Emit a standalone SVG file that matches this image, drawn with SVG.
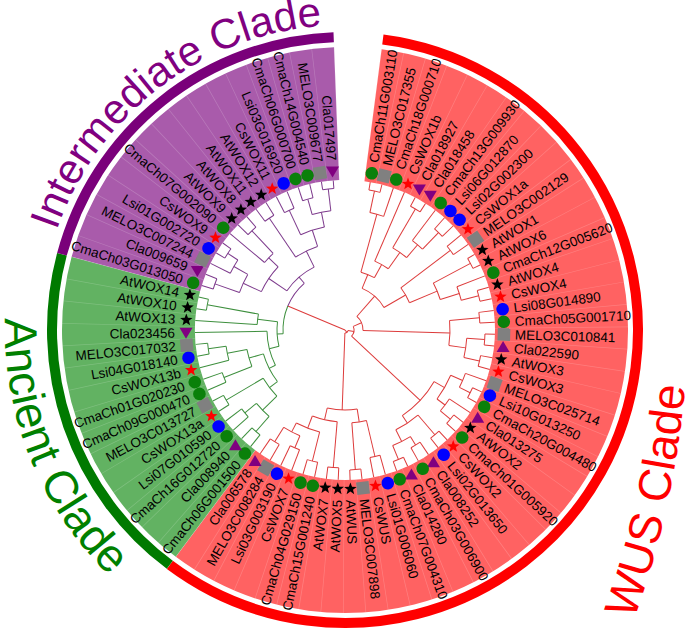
<svg xmlns="http://www.w3.org/2000/svg" width="685" height="632" viewBox="0 0 685 632">
<style>
.lbl text{font-family:"Liberation Sans",Arial,sans-serif;font-size:13.5px;fill:#000}
.lbl text.L{text-anchor:end}
.clade{font-family:"Liberation Sans",Arial,sans-serif;font-size:46px}
</style>
<defs>
<circle id="G" r="6.3" fill="#0a800a"/>
<circle id="B" r="6.3" fill="#0000ff"/>
<rect id="S" x="-6.3" y="-6.3" width="12.6" height="12.6" fill="#808080"/>
<path id="R" d="M0,-6.5L1.6,-2.2L6.2,-2L2.6,0.8L3.8,5.3L0,2.7L-3.8,5.3L-2.6,0.8L-6.2,-2L-1.6,-2.2Z" fill="#ff0000"/>
<path id="K" d="M0,-6.5L1.6,-2.2L6.2,-2L2.6,0.8L3.8,5.3L0,2.7L-3.8,5.3L-2.6,0.8L-6.2,-2L-1.6,-2.2Z" fill="#000"/>
<path id="TU" d="M0,-6L6.5,5L-6.5,5Z" fill="#800080"/>
<path id="TD" d="M0,6L6.5,-5L-6.5,-5Z" fill="#800080"/>
<path id="pI" d="M56.62,230.70 A305,305 0 0,1 371.58,26.16"/>
<path id="pA" d="M5.21,318.20 A340,340 0 0,0 175,624.45"/>
<path id="pW" d="M623,648 A900,900 0 0,0 687,356"/>
</defs>

<g id="bands" transform="translate(345,330)" fill="none">
<circle r="216.5" stroke="#ff6262" stroke-width="133" pathLength="360" stroke-dasharray="209.3 360" transform="rotate(-82.575)"/>
<circle r="216.5" stroke="#62b262" stroke-width="133" pathLength="360" stroke-dasharray="68.25 360" transform="rotate(126.725)"/>
<circle r="216.5" stroke="#a95bab" stroke-width="133" pathLength="360" stroke-dasharray="72.8 360" transform="rotate(194.975)"/>
<circle r="216.5" stroke="#fff" stroke-opacity="0.18" stroke-width="133" pathLength="360" stroke-dasharray="0.2 4.35" transform="rotate(-82.675)"/>
<circle r="293" stroke="#ff0000" stroke-width="10" pathLength="360" stroke-dasharray="209.3 360" transform="rotate(-82.575)"/>
<circle r="293" stroke="#007a00" stroke-width="10" pathLength="360" stroke-dasharray="68.25 360" transform="rotate(126.725)"/>
<circle r="293" stroke="#7a007a" stroke-width="10" pathLength="360" stroke-dasharray="72.8 360" transform="rotate(194.975)"/>
</g>

<g id="clade-labels" class="clade">
<text fill="#800080" font-size="42"><textPath href="#pI">Intermediate Clade</textPath></text>
<text fill="#008000"><textPath href="#pA">Ancient Clade</textPath></text>
<text fill="#ff0000"><textPath href="#pW" startOffset="30">WUS Clade</textPath></text>
</g>

<g id="connectors" transform="translate(345,330)" fill="none" stroke-width="1">
<g stroke="#dd3b3b">
<circle r="142" pathLength="360" stroke-dasharray="4.55 360" transform="rotate(-80.3)"/>
<circle r="120" pathLength="360" stroke-dasharray="6.825 360" transform="rotate(-78.025)"/>
<circle r="140" pathLength="360" stroke-dasharray="4.55 360" transform="rotate(-62.1)"/>
<circle r="135" pathLength="360" stroke-dasharray="4.55 360" transform="rotate(-48.45)"/>
<circle r="112" pathLength="360" stroke-dasharray="6.825 360" transform="rotate(-53)"/>
<circle r="95" pathLength="360" stroke-dasharray="10.235 360" transform="rotate(-59.825)"/>
<circle r="75" pathLength="360" stroke-dasharray="11.94 360" transform="rotate(-66.65)"/>
<circle r="60" pathLength="360" stroke-dasharray="13.93 360" transform="rotate(-74.61)"/>
<circle r="132" pathLength="360" stroke-dasharray="4.55 360" transform="rotate(-39.35)"/>
<circle r="142" pathLength="360" stroke-dasharray="4.55 360" transform="rotate(-30.25)"/>
<circle r="138" pathLength="360" stroke-dasharray="4.55 360" transform="rotate(-16.6)"/>
<circle r="120" pathLength="360" stroke-dasharray="6.825 360" transform="rotate(-21.15)"/>
<circle r="100" pathLength="360" stroke-dasharray="10.235 360" transform="rotate(-27.975)"/>
<circle r="70" pathLength="360" stroke-dasharray="14.215 360" transform="rotate(-37.075)"/>
<circle r="45" pathLength="360" stroke-dasharray="37.68 360" transform="rotate(-67.65)"/>
<circle r="135" pathLength="360" stroke-dasharray="4.55 360" transform="rotate(-7.5)"/>
<circle r="140" pathLength="360" stroke-dasharray="4.55 360" transform="rotate(1.6)"/>
<circle r="138" pathLength="360" stroke-dasharray="4.55 360" transform="rotate(10.7)"/>
<circle r="122" pathLength="360" stroke-dasharray="9.1 360" transform="rotate(3.875)"/>
<circle r="105" pathLength="360" stroke-dasharray="13.65 360" transform="rotate(-5.225)"/>
<circle r="18" pathLength="360" stroke-dasharray="50.41 360" transform="rotate(-48.81)"/>
<circle r="140" pathLength="360" stroke-dasharray="4.55 360" transform="rotate(24.35)"/>
<circle r="128" pathLength="360" stroke-dasharray="6.825 360" transform="rotate(19.8)"/>
<circle r="138" pathLength="360" stroke-dasharray="4.55 360" transform="rotate(38)"/>
<circle r="125" pathLength="360" stroke-dasharray="6.825 360" transform="rotate(33.45)"/>
<circle r="115" pathLength="360" stroke-dasharray="13.65 360" transform="rotate(23.21)"/>
<circle r="138" pathLength="360" stroke-dasharray="4.55 360" transform="rotate(47.1)"/>
<circle r="135" pathLength="360" stroke-dasharray="4.55 360" transform="rotate(56.2)"/>
<circle r="140" pathLength="360" stroke-dasharray="4.55 360" transform="rotate(65.3)"/>
<circle r="125" pathLength="360" stroke-dasharray="9.1 360" transform="rotate(58.475)"/>
<circle r="112" pathLength="360" stroke-dasharray="13.65 360" transform="rotate(49.375)"/>
<circle r="103" pathLength="360" stroke-dasharray="26.16 360" transform="rotate(30.04)"/>
<circle r="9" pathLength="360" stroke-dasharray="66.725 360" transform="rotate(-23.605)"/>
<circle r="130" pathLength="360" stroke-dasharray="4.55 360" transform="rotate(74.4)"/>
<circle r="140" pathLength="360" stroke-dasharray="4.55 360" transform="rotate(83.5)"/>
<circle r="93" pathLength="360" stroke-dasharray="9.1 360" transform="rotate(76.675)"/>
<circle r="138" pathLength="360" stroke-dasharray="4.55 360" transform="rotate(92.6)"/>
<circle r="135" pathLength="360" stroke-dasharray="4.55 360" transform="rotate(101.7)"/>
<circle r="128" pathLength="360" stroke-dasharray="4.55 360" transform="rotate(110.8)"/>
<circle r="132" pathLength="360" stroke-dasharray="4.55 360" transform="rotate(119.9)"/>
<circle r="115" pathLength="360" stroke-dasharray="9.1 360" transform="rotate(113.075)"/>
<circle r="105" pathLength="360" stroke-dasharray="13.65 360" transform="rotate(103.975)"/>
<circle r="92" pathLength="360" stroke-dasharray="15.925 360" transform="rotate(94.875)"/>
<circle r="80" pathLength="360" stroke-dasharray="21.615 360" transform="rotate(81.225)"/>
<circle r="3" pathLength="360" stroke-dasharray="82.27 360" transform="rotate(9.76)"/>
<line x1="142" x2="150" transform="rotate(-80.3)"/>
<line x1="142" x2="150" transform="rotate(-75.75)"/>
<line x1="120" x2="142" transform="rotate(-78.025)"/>
<line x1="120" x2="150" transform="rotate(-71.2)"/>
<line x1="60" x2="120" transform="rotate(-74.61)"/>
<line x1="140" x2="150" transform="rotate(-62.1)"/>
<line x1="140" x2="150" transform="rotate(-57.55)"/>
<line x1="95" x2="140" transform="rotate(-59.825)"/>
<line x1="135" x2="150" transform="rotate(-48.45)"/>
<line x1="135" x2="150" transform="rotate(-43.9)"/>
<line x1="112" x2="150" transform="rotate(-53)"/>
<line x1="112" x2="135" transform="rotate(-46.175)"/>
<line x1="95" x2="112" transform="rotate(-49.59)"/>
<line x1="75" x2="95" transform="rotate(-54.71)"/>
<line x1="75" x2="150" transform="rotate(-66.65)"/>
<line x1="60" x2="75" transform="rotate(-60.68)"/>
<line x1="45" x2="60" transform="rotate(-67.65)"/>
<line x1="132" x2="150" transform="rotate(-39.35)"/>
<line x1="132" x2="150" transform="rotate(-34.8)"/>
<line x1="70" x2="132" transform="rotate(-37.075)"/>
<line x1="142" x2="150" transform="rotate(-30.25)"/>
<line x1="142" x2="150" transform="rotate(-25.7)"/>
<line x1="100" x2="142" transform="rotate(-27.975)"/>
<line x1="138" x2="150" transform="rotate(-16.6)"/>
<line x1="138" x2="150" transform="rotate(-12.05)"/>
<line x1="120" x2="150" transform="rotate(-21.15)"/>
<line x1="120" x2="138" transform="rotate(-14.325)"/>
<line x1="100" x2="120" transform="rotate(-17.74)"/>
<line x1="70" x2="100" transform="rotate(-22.86)"/>
<line x1="45" x2="70" transform="rotate(-29.97)"/>
<line x1="18" x2="45" transform="rotate(-48.81)"/>
<line x1="135" x2="150" transform="rotate(-7.5)"/>
<line x1="135" x2="150" transform="rotate(-2.95)"/>
<line x1="140" x2="150" transform="rotate(1.6)"/>
<line x1="140" x2="150" transform="rotate(6.15)"/>
<line x1="138" x2="150" transform="rotate(10.7)"/>
<line x1="138" x2="150" transform="rotate(15.25)"/>
<line x1="122" x2="140" transform="rotate(3.875)"/>
<line x1="122" x2="138" transform="rotate(12.975)"/>
<line x1="105" x2="135" transform="rotate(-5.225)"/>
<line x1="105" x2="122" transform="rotate(8.425)"/>
<line x1="18" x2="105" transform="rotate(1.6)"/>
<line x1="9" x2="18" transform="rotate(-23.605)"/>
<line x1="140" x2="150" transform="rotate(24.35)"/>
<line x1="140" x2="150" transform="rotate(28.9)"/>
<line x1="128" x2="150" transform="rotate(19.8)"/>
<line x1="128" x2="140" transform="rotate(26.625)"/>
<line x1="138" x2="150" transform="rotate(38)"/>
<line x1="138" x2="150" transform="rotate(42.55)"/>
<line x1="125" x2="150" transform="rotate(33.45)"/>
<line x1="125" x2="138" transform="rotate(40.275)"/>
<line x1="115" x2="128" transform="rotate(23.21)"/>
<line x1="115" x2="125" transform="rotate(36.86)"/>
<line x1="138" x2="150" transform="rotate(47.1)"/>
<line x1="138" x2="150" transform="rotate(51.65)"/>
<line x1="135" x2="150" transform="rotate(56.2)"/>
<line x1="135" x2="150" transform="rotate(60.75)"/>
<line x1="140" x2="150" transform="rotate(65.3)"/>
<line x1="140" x2="150" transform="rotate(69.85)"/>
<line x1="125" x2="135" transform="rotate(58.475)"/>
<line x1="125" x2="140" transform="rotate(67.575)"/>
<line x1="112" x2="138" transform="rotate(49.375)"/>
<line x1="112" x2="125" transform="rotate(63.025)"/>
<line x1="103" x2="115" transform="rotate(30.04)"/>
<line x1="103" x2="112" transform="rotate(56.2)"/>
<line x1="9" x2="103" transform="rotate(43.12)"/>
<line x1="3" x2="9" transform="rotate(9.76)"/>
<line x1="130" x2="150" transform="rotate(74.4)"/>
<line x1="130" x2="150" transform="rotate(78.95)"/>
<line x1="140" x2="150" transform="rotate(83.5)"/>
<line x1="140" x2="150" transform="rotate(88.05)"/>
<line x1="93" x2="130" transform="rotate(76.675)"/>
<line x1="93" x2="140" transform="rotate(85.775)"/>
<line x1="138" x2="150" transform="rotate(92.6)"/>
<line x1="138" x2="150" transform="rotate(97.15)"/>
<line x1="135" x2="150" transform="rotate(101.7)"/>
<line x1="135" x2="150" transform="rotate(106.25)"/>
<line x1="128" x2="150" transform="rotate(110.8)"/>
<line x1="128" x2="150" transform="rotate(115.35)"/>
<line x1="132" x2="150" transform="rotate(119.9)"/>
<line x1="132" x2="150" transform="rotate(124.45)"/>
<line x1="115" x2="128" transform="rotate(113.075)"/>
<line x1="115" x2="132" transform="rotate(122.175)"/>
<line x1="105" x2="135" transform="rotate(103.975)"/>
<line x1="105" x2="115" transform="rotate(117.625)"/>
<line x1="92" x2="138" transform="rotate(94.875)"/>
<line x1="92" x2="105" transform="rotate(110.8)"/>
<line x1="80" x2="93" transform="rotate(81.225)"/>
<line x1="80" x2="92" transform="rotate(102.84)"/>
<line x1="3" x2="80" transform="rotate(92.03)"/>
<line x1="0" x2="3" transform="rotate(50.9)"/>
<line x1="0" x2="62" transform="rotate(202.76)"/>
</g>
<g stroke="#3d8f3d">
<circle r="135" pathLength="360" stroke-dasharray="4.55 360" transform="rotate(129)"/>
<circle r="130" pathLength="360" stroke-dasharray="4.55 360" transform="rotate(138.1)"/>
<circle r="115" pathLength="360" stroke-dasharray="9.1 360" transform="rotate(131.275)"/>
<circle r="138" pathLength="360" stroke-dasharray="4.55 360" transform="rotate(147.2)"/>
<circle r="95" pathLength="360" stroke-dasharray="13.65 360" transform="rotate(135.825)"/>
<circle r="130" pathLength="360" stroke-dasharray="4.55 360" transform="rotate(156.3)"/>
<circle r="138" pathLength="360" stroke-dasharray="4.55 360" transform="rotate(169.95)"/>
<circle r="120" pathLength="360" stroke-dasharray="6.825 360" transform="rotate(165.4)"/>
<circle r="100" pathLength="360" stroke-dasharray="10.235 360" transform="rotate(158.575)"/>
<circle r="85" pathLength="360" stroke-dasharray="21.04 360" transform="rotate(142.65)"/>
<circle r="78" pathLength="360" stroke-dasharray="25.88 360" transform="rotate(153.17)"/>
<circle r="140" pathLength="360" stroke-dasharray="4.55 360" transform="rotate(188.15)"/>
<circle r="88" pathLength="360" stroke-dasharray="6.825 360" transform="rotate(183.6)"/>
<circle r="68" pathLength="360" stroke-dasharray="20.9 360" transform="rotate(166.11)"/>
<circle r="62" pathLength="360" stroke-dasharray="26.2 360" transform="rotate(176.56)"/>
<line x1="135" x2="150" transform="rotate(129)"/>
<line x1="135" x2="150" transform="rotate(133.55)"/>
<line x1="130" x2="150" transform="rotate(138.1)"/>
<line x1="130" x2="150" transform="rotate(142.65)"/>
<line x1="115" x2="135" transform="rotate(131.275)"/>
<line x1="115" x2="130" transform="rotate(140.375)"/>
<line x1="138" x2="150" transform="rotate(147.2)"/>
<line x1="138" x2="150" transform="rotate(151.75)"/>
<line x1="95" x2="115" transform="rotate(135.825)"/>
<line x1="95" x2="138" transform="rotate(149.475)"/>
<line x1="130" x2="150" transform="rotate(156.3)"/>
<line x1="130" x2="150" transform="rotate(160.85)"/>
<line x1="138" x2="150" transform="rotate(169.95)"/>
<line x1="138" x2="150" transform="rotate(174.5)"/>
<line x1="120" x2="150" transform="rotate(165.4)"/>
<line x1="120" x2="138" transform="rotate(172.225)"/>
<line x1="100" x2="130" transform="rotate(158.575)"/>
<line x1="100" x2="120" transform="rotate(168.81)"/>
<line x1="85" x2="95" transform="rotate(142.65)"/>
<line x1="85" x2="100" transform="rotate(163.69)"/>
<line x1="78" x2="85" transform="rotate(153.17)"/>
<line x1="78" x2="150" transform="rotate(179.05)"/>
<line x1="140" x2="150" transform="rotate(188.15)"/>
<line x1="140" x2="150" transform="rotate(192.7)"/>
<line x1="88" x2="150" transform="rotate(183.6)"/>
<line x1="88" x2="140" transform="rotate(190.425)"/>
<line x1="68" x2="78" transform="rotate(166.11)"/>
<line x1="68" x2="88" transform="rotate(187.01)"/>
<line x1="62" x2="68" transform="rotate(176.56)"/>
</g>
<g stroke="#7d3a8c">
<circle r="138" pathLength="360" stroke-dasharray="4.55 360" transform="rotate(197.25)"/>
<circle r="140" pathLength="360" stroke-dasharray="4.55 360" transform="rotate(210.9)"/>
<circle r="128" pathLength="360" stroke-dasharray="6.825 360" transform="rotate(206.35)"/>
<circle r="112" pathLength="360" stroke-dasharray="10.235 360" transform="rotate(199.525)"/>
<circle r="136" pathLength="360" stroke-dasharray="4.55 360" transform="rotate(224.55)"/>
<circle r="105" pathLength="360" stroke-dasharray="6.825 360" transform="rotate(220)"/>
<circle r="92" pathLength="360" stroke-dasharray="18.77 360" transform="rotate(204.64)"/>
<circle r="135" pathLength="360" stroke-dasharray="4.55 360" transform="rotate(233.65)"/>
<circle r="132" pathLength="360" stroke-dasharray="4.55 360" transform="rotate(242.75)"/>
<circle r="136" pathLength="360" stroke-dasharray="4.55 360" transform="rotate(251.85)"/>
<circle r="142" pathLength="360" stroke-dasharray="4.55 360" transform="rotate(260.95)"/>
<circle r="120" pathLength="360" stroke-dasharray="9.1 360" transform="rotate(254.125)"/>
<circle r="105" pathLength="360" stroke-dasharray="13.65 360" transform="rotate(245.025)"/>
<circle r="88" pathLength="360" stroke-dasharray="15.925 360" transform="rotate(235.925)"/>
<circle r="70" pathLength="360" stroke-dasharray="29.86 360" transform="rotate(214.03)"/>
<circle r="62" pathLength="360" stroke-dasharray="26.2 360" transform="rotate(202.76)"/>
<line x1="138" x2="150" transform="rotate(197.25)"/>
<line x1="138" x2="150" transform="rotate(201.8)"/>
<line x1="140" x2="150" transform="rotate(210.9)"/>
<line x1="140" x2="150" transform="rotate(215.45)"/>
<line x1="128" x2="150" transform="rotate(206.35)"/>
<line x1="128" x2="140" transform="rotate(213.175)"/>
<line x1="112" x2="138" transform="rotate(199.525)"/>
<line x1="112" x2="128" transform="rotate(209.76)"/>
<line x1="136" x2="150" transform="rotate(224.55)"/>
<line x1="136" x2="150" transform="rotate(229.1)"/>
<line x1="105" x2="150" transform="rotate(220)"/>
<line x1="105" x2="136" transform="rotate(226.825)"/>
<line x1="92" x2="112" transform="rotate(204.64)"/>
<line x1="92" x2="105" transform="rotate(223.41)"/>
<line x1="135" x2="150" transform="rotate(233.65)"/>
<line x1="135" x2="150" transform="rotate(238.2)"/>
<line x1="132" x2="150" transform="rotate(242.75)"/>
<line x1="132" x2="150" transform="rotate(247.3)"/>
<line x1="136" x2="150" transform="rotate(251.85)"/>
<line x1="136" x2="150" transform="rotate(256.4)"/>
<line x1="142" x2="150" transform="rotate(260.95)"/>
<line x1="142" x2="150" transform="rotate(265.5)"/>
<line x1="120" x2="136" transform="rotate(254.125)"/>
<line x1="120" x2="142" transform="rotate(263.225)"/>
<line x1="105" x2="132" transform="rotate(245.025)"/>
<line x1="105" x2="120" transform="rotate(258.675)"/>
<line x1="88" x2="135" transform="rotate(235.925)"/>
<line x1="88" x2="105" transform="rotate(251.85)"/>
<line x1="70" x2="92" transform="rotate(214.03)"/>
<line x1="70" x2="88" transform="rotate(243.89)"/>
<line x1="62" x2="70" transform="rotate(228.96)"/>
</g>
</g>

<g id="leaves" class="lbl" transform="translate(345,330)">
<g id="leaf-CmaCh11G003110" transform="rotate(-80.3)"><use href="#G" x="159"/><text x="170" y="4.7">CmaCh11G003110</text></g>
<g id="leaf-MELO3C017355" transform="rotate(-75.75)"><use href="#S" x="159"/><text x="170" y="4.7">MELO3C017355</text></g>
<g id="leaf-CmaCh18G000710" transform="rotate(-71.2)"><use href="#G" x="159"/><text x="170" y="4.7">CmaCh18G000710</text></g>
<g id="leaf-CsWOX1b" transform="rotate(-66.65)"><use href="#R" transform="translate(159 0) rotate(66.65)"/><text x="170" y="4.7">CsWOX1b</text></g>
<g id="leaf-Cla018927" transform="rotate(-62.1)"><use href="#TD" transform="translate(159 0) rotate(62.1)"/><text x="170" y="4.7">Cla018927</text></g>
<g id="leaf-Cla018458" transform="rotate(-57.55)"><use href="#TD" transform="translate(159 0) rotate(57.55)"/><text x="170" y="4.7">Cla018458</text></g>
<g id="leaf-CmaCh13G009930" transform="rotate(-53)"><use href="#G" x="159"/><text x="170" y="4.7">CmaCh13G009930</text></g>
<g id="leaf-Lsi06G012870" transform="rotate(-48.45)"><use href="#B" x="159"/><text x="170" y="4.7">Lsi06G012870</text></g>
<g id="leaf-Lsi02G002300" transform="rotate(-43.9)"><use href="#B" x="159"/><text x="170" y="4.7">Lsi02G002300</text></g>
<g id="leaf-CsWOX1a" transform="rotate(-39.35)"><use href="#R" transform="translate(159 0) rotate(39.35)"/><text x="170" y="4.7">CsWOX1a</text></g>
<g id="leaf-MELO3C002129" transform="rotate(-34.8)"><use href="#S" x="159"/><text x="170" y="4.7">MELO3C002129</text></g>
<g id="leaf-AtWOX1" transform="rotate(-30.25)"><use href="#K" transform="translate(159 0) rotate(30.25)"/><text x="170" y="4.7">AtWOX1</text></g>
<g id="leaf-AtWOX6" transform="rotate(-25.7)"><use href="#K" transform="translate(159 0) rotate(25.7)"/><text x="170" y="4.7">AtWOX6</text></g>
<g id="leaf-CmaCh12G005620" transform="rotate(-21.15)"><use href="#G" x="159"/><text x="170" y="4.7">CmaCh12G005620</text></g>
<g id="leaf-AtWOX4" transform="rotate(-16.6)"><use href="#K" transform="translate(159 0) rotate(16.6)"/><text x="170" y="4.7">AtWOX4</text></g>
<g id="leaf-CsWOX4" transform="rotate(-12.05)"><use href="#R" transform="translate(159 0) rotate(12.05)"/><text x="170" y="4.7">CsWOX4</text></g>
<g id="leaf-Lsi08G014890" transform="rotate(-7.5)"><use href="#B" x="159"/><text x="170" y="4.7">Lsi08G014890</text></g>
<g id="leaf-CmaCh05G001710" transform="rotate(-2.95)"><use href="#G" x="159"/><text x="170" y="4.7">CmaCh05G001710</text></g>
<g id="leaf-MELO3C010841" transform="rotate(1.6)"><use href="#S" x="159"/><text x="170" y="4.7">MELO3C010841</text></g>
<g id="leaf-Cla022590" transform="rotate(6.15)"><use href="#TU" transform="translate(159 0) rotate(-6.15)"/><text x="170" y="4.7">Cla022590</text></g>
<g id="leaf-AtWOX3" transform="rotate(10.7)"><use href="#K" transform="translate(159 0) rotate(-10.7)"/><text x="170" y="4.7">AtWOX3</text></g>
<g id="leaf-CsWOX3" transform="rotate(15.25)"><use href="#R" transform="translate(159 0) rotate(-15.25)"/><text x="170" y="4.7">CsWOX3</text></g>
<g id="leaf-MELO3C025714" transform="rotate(19.8)"><use href="#S" x="159"/><text x="170" y="4.7">MELO3C025714</text></g>
<g id="leaf-Lsi10G013250" transform="rotate(24.35)"><use href="#B" x="159"/><text x="170" y="4.7">Lsi10G013250</text></g>
<g id="leaf-CmaCh20G004480" transform="rotate(28.9)"><use href="#G" x="159"/><text x="170" y="4.7">CmaCh20G004480</text></g>
<g id="leaf-Cla013275" transform="rotate(33.45)"><use href="#TU" transform="translate(159 0) rotate(-33.45)"/><text x="170" y="4.7">Cla013275</text></g>
<g id="leaf-AtWOX2" transform="rotate(38)"><use href="#K" transform="translate(159 0) rotate(-38)"/><text x="170" y="4.7">AtWOX2</text></g>
<g id="leaf-CmaCh01G005920" transform="rotate(42.55)"><use href="#G" x="159"/><text x="170" y="4.7">CmaCh01G005920</text></g>
<g id="leaf-CsWOX2" transform="rotate(47.1)"><use href="#R" transform="translate(159 0) rotate(-47.1)"/><text x="170" y="4.7">CsWOX2</text></g>
<g id="leaf-Lsi02G013650" transform="rotate(51.65)"><use href="#B" x="159"/><text x="170" y="4.7">Lsi02G013650</text></g>
<g id="leaf-Cla008252" transform="rotate(56.2)"><use href="#TU" transform="translate(159 0) rotate(-56.2)"/><text x="170" y="4.7">Cla008252</text></g>
<g id="leaf-CmaCh03G006900" transform="rotate(60.75)"><use href="#G" x="159"/><text x="170" y="4.7">CmaCh03G006900</text></g>
<g id="leaf-Cla014280" transform="rotate(65.3)"><use href="#TU" transform="translate(159 0) rotate(-65.3)"/><text x="170" y="4.7">Cla014280</text></g>
<g id="leaf-CmaCh07G004310" transform="rotate(69.85)"><use href="#G" x="159"/><text x="170" y="4.7">CmaCh07G004310</text></g>
<g id="leaf-Lsi01G006060" transform="rotate(74.4)"><use href="#B" x="159"/><text x="170" y="4.7">Lsi01G006060</text></g>
<g id="leaf-CsWUS" transform="rotate(78.95)"><use href="#R" transform="translate(159 0) rotate(-78.95)"/><text x="170" y="4.7">CsWUS</text></g>
<g id="leaf-MELO3C007898" transform="rotate(83.5)"><use href="#S" x="159"/><text x="170" y="4.7">MELO3C007898</text></g>
<g id="leaf-AtWUS" transform="rotate(88.05)"><use href="#K" transform="translate(159 0) rotate(-88.05)"/><text x="170" y="4.7">AtWUS</text></g>
<g id="leaf-AtWOX5" transform="rotate(92.6)"><use href="#K" transform="translate(159 0) rotate(-92.6)"/><text class="L" transform="rotate(180)" x="-170" y="4.7">AtWOX5</text></g>
<g id="leaf-AtWOX7" transform="rotate(97.15)"><use href="#K" transform="translate(159 0) rotate(-97.15)"/><text class="L" transform="rotate(180)" x="-170" y="4.7">AtWOX7</text></g>
<g id="leaf-CmaCh15G001240" transform="rotate(101.7)"><use href="#G" x="159"/><text class="L" transform="rotate(180)" x="-170" y="4.7">CmaCh15G001240</text></g>
<g id="leaf-CmaCh04G029150" transform="rotate(106.25)"><use href="#G" x="159"/><text class="L" transform="rotate(180)" x="-170" y="4.7">CmaCh04G029150</text></g>
<g id="leaf-CsWOX7" transform="rotate(110.8)"><use href="#R" transform="translate(159 0) rotate(-110.8)"/><text class="L" transform="rotate(180)" x="-170" y="4.7">CsWOX7</text></g>
<g id="leaf-Lsi03G003190" transform="rotate(115.35)"><use href="#B" x="159"/><text class="L" transform="rotate(180)" x="-170" y="4.7">Lsi03G003190</text></g>
<g id="leaf-MELO3C008284" transform="rotate(119.9)"><use href="#S" x="159"/><text class="L" transform="rotate(180)" x="-170" y="4.7">MELO3C008284</text></g>
<g id="leaf-Cla006578" transform="rotate(124.45)"><use href="#TU" transform="translate(159 0) rotate(-124.45)"/><text class="L" transform="rotate(180)" x="-170" y="4.7">Cla006578</text></g>
<g id="leaf-CmaCh06G001500" transform="rotate(129)"><use href="#G" x="159"/><text class="L" transform="rotate(180)" x="-170" y="4.7">CmaCh06G001500</text></g>
<g id="leaf-Cla008940" transform="rotate(133.55)"><use href="#TU" transform="translate(159 0) rotate(-133.55)"/><text class="L" transform="rotate(180)" x="-170" y="4.7">Cla008940</text></g>
<g id="leaf-CmaCh16G012720" transform="rotate(138.1)"><use href="#G" x="159"/><text class="L" transform="rotate(180)" x="-170" y="4.7">CmaCh16G012720</text></g>
<g id="leaf-Lsi07G010590" transform="rotate(142.65)"><use href="#B" x="159"/><text class="L" transform="rotate(180)" x="-170" y="4.7">Lsi07G010590</text></g>
<g id="leaf-CsWOX13a" transform="rotate(147.2)"><use href="#R" transform="translate(159 0) rotate(-147.2)"/><text class="L" transform="rotate(180)" x="-170" y="4.7">CsWOX13a</text></g>
<g id="leaf-MELO3C013727" transform="rotate(151.75)"><use href="#S" x="159"/><text class="L" transform="rotate(180)" x="-170" y="4.7">MELO3C013727</text></g>
<g id="leaf-CmaCh09G000470" transform="rotate(156.3)"><use href="#G" x="159"/><text class="L" transform="rotate(180)" x="-170" y="4.7">CmaCh09G000470</text></g>
<g id="leaf-CmaCh01G020230" transform="rotate(160.85)"><use href="#G" x="159"/><text class="L" transform="rotate(180)" x="-170" y="4.7">CmaCh01G020230</text></g>
<g id="leaf-CsWOX13b" transform="rotate(165.4)"><use href="#R" transform="translate(159 0) rotate(-165.4)"/><text class="L" transform="rotate(180)" x="-170" y="4.7">CsWOX13b</text></g>
<g id="leaf-Lsi04G018140" transform="rotate(169.95)"><use href="#B" x="159"/><text class="L" transform="rotate(180)" x="-170" y="4.7">Lsi04G018140</text></g>
<g id="leaf-MELO3C017032" transform="rotate(174.5)"><use href="#S" x="159"/><text class="L" transform="rotate(180)" x="-170" y="4.7">MELO3C017032</text></g>
<g id="leaf-Cla023456" transform="rotate(179.05)"><use href="#TD" transform="translate(159 0) rotate(-179.05)"/><text class="L" transform="rotate(180)" x="-170" y="4.7">Cla023456</text></g>
<g id="leaf-AtWOX13" transform="rotate(183.6)"><use href="#K" transform="translate(159 0) rotate(-183.6)"/><text class="L" transform="rotate(180)" x="-170" y="4.7">AtWOX13</text></g>
<g id="leaf-AtWOX10" transform="rotate(188.15)"><use href="#K" transform="translate(159 0) rotate(-188.15)"/><text class="L" transform="rotate(180)" x="-170" y="4.7">AtWOX10</text></g>
<g id="leaf-AtWOX14" transform="rotate(192.7)"><use href="#K" transform="translate(159 0) rotate(-192.7)"/><text class="L" transform="rotate(180)" x="-170" y="4.7">AtWOX14</text></g>
<g id="leaf-CmaCh03G013050" transform="rotate(197.25)"><use href="#G" x="159"/><text class="L" transform="rotate(180)" x="-170" y="4.7">CmaCh03G013050</text></g>
<g id="leaf-Cla009659" transform="rotate(201.8)"><use href="#TD" transform="translate(159 0) rotate(-201.8)"/><text class="L" transform="rotate(180)" x="-170" y="4.7">Cla009659</text></g>
<g id="leaf-MELO3C007244" transform="rotate(206.35)"><use href="#S" x="159"/><text class="L" transform="rotate(180)" x="-170" y="4.7">MELO3C007244</text></g>
<g id="leaf-Lsi01G002720" transform="rotate(210.9)"><use href="#B" x="159"/><text class="L" transform="rotate(180)" x="-170" y="4.7">Lsi01G002720</text></g>
<g id="leaf-CsWOX9" transform="rotate(215.45)"><use href="#R" transform="translate(159 0) rotate(-215.45)"/><text class="L" transform="rotate(180)" x="-170" y="4.7">CsWOX9</text></g>
<g id="leaf-CmaCh07G002090" transform="rotate(220)"><use href="#G" x="159"/><text class="L" transform="rotate(180)" x="-170" y="4.7">CmaCh07G002090</text></g>
<g id="leaf-AtWOX9" transform="rotate(224.55)"><use href="#K" transform="translate(159 0) rotate(-224.55)"/><text class="L" transform="rotate(180)" x="-170" y="4.7">AtWOX9</text></g>
<g id="leaf-AtWOX8" transform="rotate(229.1)"><use href="#K" transform="translate(159 0) rotate(-229.1)"/><text class="L" transform="rotate(180)" x="-170" y="4.7">AtWOX8</text></g>
<g id="leaf-AtWOX11" transform="rotate(233.65)"><use href="#K" transform="translate(159 0) rotate(-233.65)"/><text class="L" transform="rotate(180)" x="-170" y="4.7">AtWOX11</text></g>
<g id="leaf-AtWOX12" transform="rotate(238.2)"><use href="#K" transform="translate(159 0) rotate(-238.2)"/><text class="L" transform="rotate(180)" x="-170" y="4.7">AtWOX12</text></g>
<g id="leaf-CsWOX11" transform="rotate(242.75)"><use href="#R" transform="translate(159 0) rotate(-242.75)"/><text class="L" transform="rotate(180)" x="-170" y="4.7">CsWOX11</text></g>
<g id="leaf-Lsi03G016920" transform="rotate(247.3)"><use href="#B" x="159"/><text class="L" transform="rotate(180)" x="-170" y="4.7">Lsi03G016920</text></g>
<g id="leaf-CmaCh06G000700" transform="rotate(251.85)"><use href="#G" x="159"/><text class="L" transform="rotate(180)" x="-170" y="4.7">CmaCh06G000700</text></g>
<g id="leaf-CmaCh14G004540" transform="rotate(256.4)"><use href="#G" x="159"/><text class="L" transform="rotate(180)" x="-170" y="4.7">CmaCh14G004540</text></g>
<g id="leaf-MELO3C009677" transform="rotate(260.95)"><use href="#S" x="159"/><text class="L" transform="rotate(180)" x="-170" y="4.7">MELO3C009677</text></g>
<g id="leaf-Cla017497" transform="rotate(265.5)"><use href="#TD" transform="translate(159 0) rotate(-265.5)"/><text class="L" transform="rotate(180)" x="-170" y="4.7">Cla017497</text></g>
</g>
</svg>
